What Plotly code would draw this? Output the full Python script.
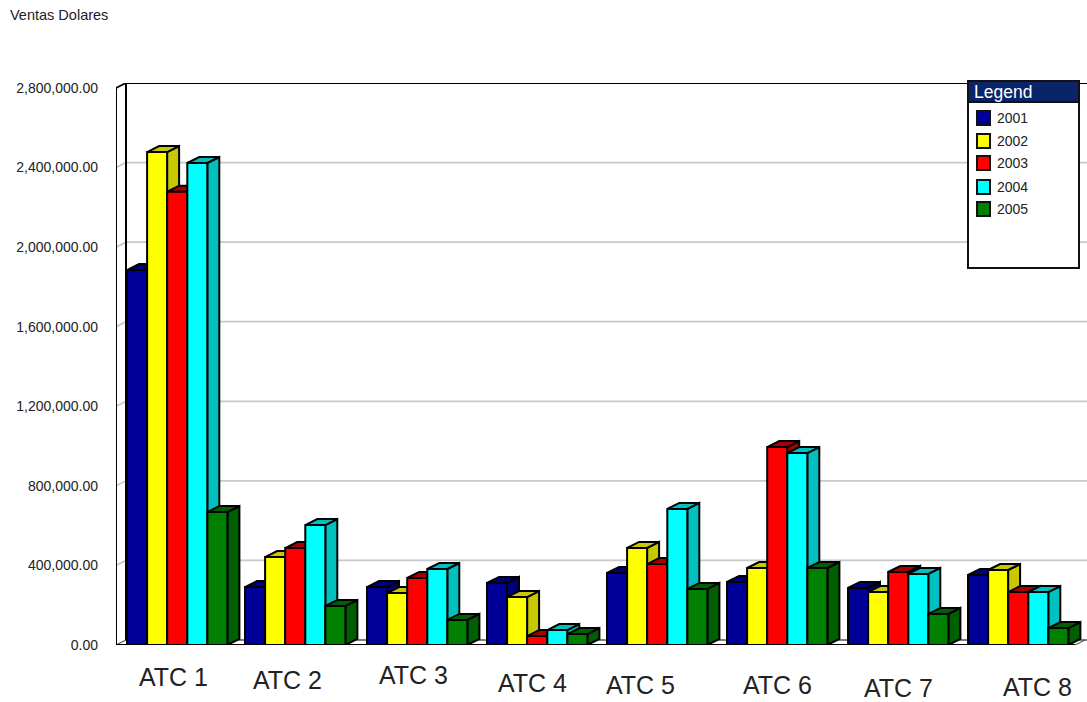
import plotly.graph_objects as go

# Sales in dollars per ATC group and year
categories = ["ATC 1", "ATC 2", "ATC 3", "ATC 4", "ATC 5", "ATC 6", "ATC 7", "ATC 8"]
years = ["2001", "2002", "2003", "2004", "2005"]
ventas_2001 = [1885000, 291000, 291000, 312000, 362000, 317000, 287000, 352000]
ventas_2002 = [2478000, 442000, 261000, 241000, 488000, 387000, 266000, 377000]
ventas_2003 = [2279000, 487000, 337000, 45000, 407000, 995000, 367000, 266000]
ventas_2004 = [2423000, 603000, 382000, 75000, 684000, 965000, 357000, 266000]
ventas_2005 = [668000, 196000, 126000, 55000, 282000, 387000, 156000, 85000]
series_values = [ventas_2001, ventas_2002, ventas_2003, ventas_2004, ventas_2005]
tick_values = [0, 400000, 800000, 1200000, 1600000, 2000000, 2400000, 2800000]

front_colors = ["#000099", "#FFFF00", "#FF0000", "#00FFFF", "#008000"]
shade_colors = ["#00007A", "#C8C800", "#A80000", "#00C0C0", "#005F00"]

# Plot area in page pixels; the x axis is measured in pixels from the plot's left edge
WIDTH, HEIGHT = 1087, 702
LEFT, RIGHT, TOP, BOTTOM = 116, 1087, 83, 645
UNITS_PER_PX = 2800000 / 557

# Left edge of each group's first bar along the x axis
group_start = [11, 129, 251, 371, 491, 611, 732, 852]
bar_w = 20
bar_step = 20.1
depth_x = 12
depth_y = 6 * UNITS_PER_PX
wall_x = 10
wall_y = 5 * UNITS_PER_PX

x_min = 0
x_max = RIGHT - LEFT
y_max = (BOTTOM - TOP) * UNITS_PER_PX


def paper_x(px):
    return (px - LEFT) / (RIGHT - LEFT)


def paper_y(py):
    return (BOTTOM - py) / (BOTTOM - TOP)


def polygons(shapes):
    xs, ys = [], []
    for pts in shapes:
        xs += [p[0] for p in pts] + [pts[0][0], None]
        ys += [p[1] for p in pts] + [pts[0][1], None]
    return xs, ys


def face_trace(shapes, fill, name, group):
    xs, ys = polygons(shapes)
    return go.Scatter(
        x=xs, y=ys, mode="lines", fill="toself", fillcolor=fill,
        line=dict(color="#000000", width=2), name=name, legendgroup=group,
        showlegend=False, hoverinfo="skip",
    )


def wire(xs, ys, color, width):
    return go.Scatter(
        x=xs, y=ys, mode="lines", line=dict(color=color, width=width),
        showlegend=False, hoverinfo="skip", cliponaxis=False,
    )


fig = go.Figure()

# Gridlines run along the back wall and step down the side wall
for v in tick_values[1:-1]:
    fig.add_trace(wire([x_min, x_min + wall_x, x_max], [v, v + wall_y, v + wall_y], "#C8C8C8", 1.7))

# Side wall, floor and top edge of the box
fig.add_trace(wire([x_min, x_min], [0, tick_values[-1]], "#000000", 2))
fig.add_trace(wire([x_min + wall_x, x_min + wall_x], [wall_y, tick_values[-1] + wall_y], "#000000", 2))
fig.add_trace(wire([x_min, x_min + wall_x, x_max],
                   [tick_values[-1], tick_values[-1] + wall_y, tick_values[-1] + wall_y], "#000000", 1.8))
fig.add_trace(wire([x_min + wall_x, x_max], [wall_y, wall_y], "#555555", 1.6))
fig.add_trace(wire([x_min, x_min + wall_x], [0, wall_y], "#555555", 1.2))
floor_end = x_max - 12
fig.add_trace(wire([floor_end, floor_end + wall_x], [0, wall_y], "#555555", 1.2))
fig.add_trace(wire([x_min, floor_end], [0, 0], "#000000", 2.2))

# Each year adds a side, a top and a front face for every group
for s, (year, values) in enumerate(zip(years, series_values)):
    sides, tops, fronts = [], [], []
    for start, v in zip(group_start, values):
        x0 = start + s * bar_step
        x1 = x0 + bar_w
        sides.append([(x1, 0), (x1 + depth_x, depth_y), (x1 + depth_x, v + depth_y), (x1, v)])
        tops.append([(x0, v), (x1, v), (x1 + depth_x, v + depth_y), (x0 + depth_x, v + depth_y)])
        fronts.append([(x0, 0), (x1, 0), (x1, v), (x0, v)])
    fig.add_trace(face_trace(sides, shade_colors[s], year, year))
    fig.add_trace(face_trace(tops, shade_colors[s], year, year))
    fig.add_trace(face_trace(fronts, front_colors[s], year, year))

shapes = []
annotations = []

# Legend panel with its title bar
LEG_L, LEG_R, LEG_T, LEG_B, LEG_HEAD = 968, 1079, 81, 268, 102
shapes.append(dict(type="rect", xref="paper", yref="paper",
                   x0=paper_x(LEG_L), x1=paper_x(LEG_R), y0=paper_y(LEG_B), y1=paper_y(LEG_T),
                   fillcolor="#FFFFFF", line=dict(color="#111111", width=2)))
shapes.append(dict(type="rect", xref="paper", yref="paper",
                   x0=paper_x(LEG_L), x1=paper_x(LEG_R), y0=paper_y(LEG_HEAD), y1=paper_y(LEG_T),
                   fillcolor="#0A246A", line=dict(color="#111111", width=2)))
annotations.append(dict(text="Legend", xref="paper", yref="paper", x=paper_x(972), y=paper_y(92),
                        xanchor="left", yanchor="middle", showarrow=False,
                        font=dict(family="Liberation Sans", size=17.5, color="#FFFFFF")))

legend_rows = [118, 141, 163, 187, 209]
for year, color, row in zip(years, front_colors, legend_rows):
    shapes.append(dict(type="rect", xref="paper", yref="paper",
                       x0=paper_x(977), x1=paper_x(990), y0=paper_y(row + 7), y1=paper_y(row - 7),
                       fillcolor=color, line=dict(color="#111111", width=2)))
    annotations.append(dict(text=year, xref="paper", yref="paper", x=paper_x(995), y=paper_y(row),
                            xanchor="left", yanchor="middle", showarrow=False,
                            font=dict(family="Liberation Sans", size=14, color="#222222")))

# Group captions sit at uneven heights below the floor
label_x = [173, 287, 413, 532, 640, 777, 898, 1037]
label_y = [677, 680, 675, 683, 685, 685, 688, 687]
for text, lx, ly in zip(categories, label_x, label_y):
    annotations.append(dict(text=text, xref="paper", yref="paper", x=paper_x(lx), y=paper_y(ly),
                            xanchor="center", yanchor="middle", showarrow=False,
                            font=dict(family="Liberation Sans", size=25, color="#222222")))

annotations.append(dict(text="Ventas Dolares", xref="paper", yref="paper", x=paper_x(8), y=paper_y(15),
                        xanchor="left", yanchor="middle", showarrow=False,
                        font=dict(family="Liberation Sans", size=14.5, color="#222222")))

fig.update_layout(
    width=WIDTH, height=HEIGHT,
    margin=dict(l=LEFT, r=WIDTH - RIGHT, t=TOP, b=HEIGHT - BOTTOM, pad=0),
    paper_bgcolor="#FFFFFF", plot_bgcolor="#FFFFFF",
    showlegend=False,
    shapes=shapes, annotations=annotations,
    xaxis=dict(range=[x_min, x_max], showgrid=False, zeroline=False, showticklabels=False,
               ticks="", showline=False, fixedrange=True),
    yaxis=dict(range=[0, y_max], showgrid=False, zeroline=False, showline=False,
               tickvals=tick_values, tickformat=",.2f", ticks="", ticklabelstandoff=17,
               tickfont=dict(family="Liberation Sans", size=14, color="#222222"), fixedrange=True),
)

fig.write_html("out.html", config=dict(displayModeBar=False))
